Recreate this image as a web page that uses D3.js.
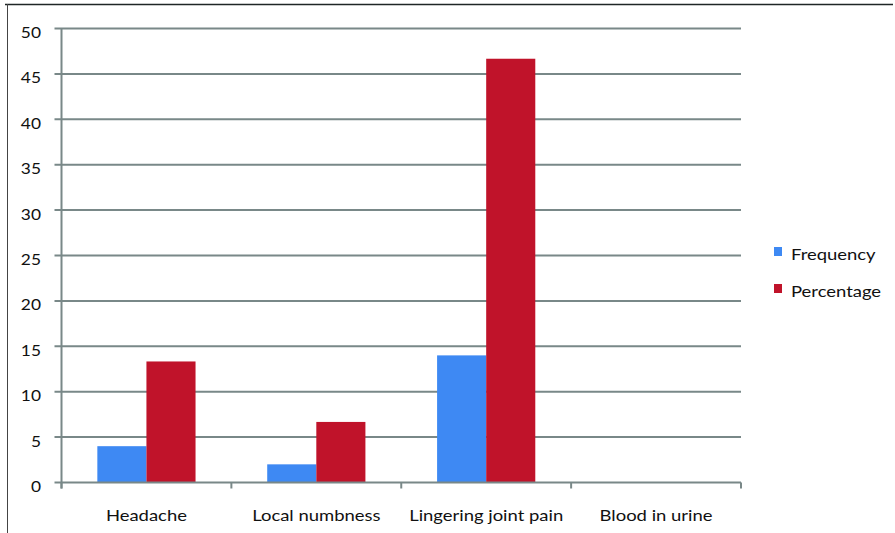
<!DOCTYPE html>
<html>
<head>
<meta charset="utf-8">
<script src="https://cdn.jsdelivr.net/npm/d3@7"></script>
<style>
  html, body { margin: 0; padding: 0; background: #fff; }
  svg { display: block; }
  text { font-family: Lato, "Open Sans", sans-serif; fill: #111; }
</style>
</head>
<body>
<svg id="chart" width="895" height="533"></svg>
<script>
// Symptom data: count of cases and share of the sample (%)
const categories = ["Headache", "Local numbness", "Lingering joint pain", "Blood in urine"];
const seriesNames = ["Frequency", "Percentage"];
const frequency = [4, 2, 14, 0];
const percentage = [13.33, 6.67, 46.67, 0];
const yTicks = [0, 5, 10, 15, 20, 25, 30, 35, 40, 45, 50];
const colors = ["#3e89f3", "#c0132a"];

const svg = d3.select("#chart");
const W = 895, H = 533;
const plot = { left: 61.5, right: 741, top: 28.5, bottom: 482.5 };
const gridColor = "#798888";
const fontSize = 15;
const stretch = 1.23;   // wide label lettering

// Outer frame: top rule and left rule
svg.append("line").attr("x1", 5).attr("x2", 893).attr("y1", 4.5).attr("y2", 4.5)
  .attr("stroke", "#1f2626").attr("stroke-width", 1.6);
svg.append("line").attr("x1", 7.5).attr("x2", 7.5).attr("y1", 4).attr("y2", H)
  .attr("stroke", "#444").attr("stroke-width", 1);

const x = d3.scaleBand().domain(categories).range([plot.left, plot.right]).paddingInner(0).paddingOuter(0);
const x1 = d3.scaleBand().domain(seriesNames).range([0, x.bandwidth()]).paddingInner(0).paddingOuter(0.73);
const y = d3.scaleLinear().domain([0, 50]).range([plot.bottom, plot.top]);

// Horizontal gridlines
svg.append("g").selectAll("line").data(yTicks.filter(d => d > 0)).join("line")
  .attr("x1", plot.left - 7).attr("x2", plot.right)
  .attr("y1", d => y(d)).attr("y2", d => y(d))
  .attr("stroke", gridColor).attr("stroke-width", 2);

// Y axis line and labels
svg.append("line").attr("x1", plot.left).attr("x2", plot.left)
  .attr("y1", plot.top).attr("y2", plot.bottom + 6)
  .attr("stroke", gridColor).attr("stroke-width", 2);
svg.append("line").attr("x1", plot.left - 7).attr("x2", plot.left)
  .attr("y1", y(0)).attr("y2", y(0))
  .attr("stroke", gridColor).attr("stroke-width", 2);
svg.append("g").selectAll("text").data(yTicks).join("text")
  .attr("transform", d => `translate(41,${y(d) + 9.5}) scale(1.12,1)`)
  .attr("text-anchor", "end")
  .attr("font-size", fontSize + 0.5)
  .text(d => d);

// Bars
const groups = svg.append("g").selectAll("g").data(categories).join("g")
  .attr("transform", d => `translate(${x(d)},0)`);
groups.selectAll("rect")
  .data((d, i) => [frequency[i], percentage[i]].map((v, j) => ({ key: seriesNames[j], v, j })))
  .join("rect")
  .attr("x", d => x1(d.key))
  .attr("width", x1.bandwidth())
  .attr("y", d => y(d.v))
  .attr("height", d => y(0) - y(d.v))
  .attr("fill", d => colors[d.j]);

// X axis baseline with category boundary ticks
svg.append("line").attr("x1", plot.left).attr("x2", plot.right)
  .attr("y1", plot.bottom).attr("y2", plot.bottom)
  .attr("stroke", gridColor).attr("stroke-width", 2.2);
const bounds = categories.map(c => x(c)).concat([plot.right]);
svg.append("g").selectAll("line").data(bounds).join("line")
  .attr("x1", d => d).attr("x2", d => d).attr("y1", plot.bottom).attr("y2", plot.bottom + 6)
  .attr("stroke", gridColor).attr("stroke-width", 2);
svg.append("g").selectAll("text").data(categories).join("text")
  .attr("transform", d => `translate(${x(d) + x.bandwidth() / 2},521) scale(${stretch},1)`)
  .attr("text-anchor", "middle")
  .attr("font-size", fontSize)
  .text(d => d);

// Legend
const legend = svg.append("g").attr("transform", "translate(774,247)");
seriesNames.forEach((name, i) => {
  const g = legend.append("g").attr("transform", `translate(0,${i * 37})`);
  g.append("rect").attr("width", 8).attr("height", 9).attr("fill", colors[i]);
  g.append("text").attr("transform", `translate(17,12.5) scale(${stretch},1)`)
    .attr("font-size", fontSize).text(name);
});
</script>
</body>
</html>
